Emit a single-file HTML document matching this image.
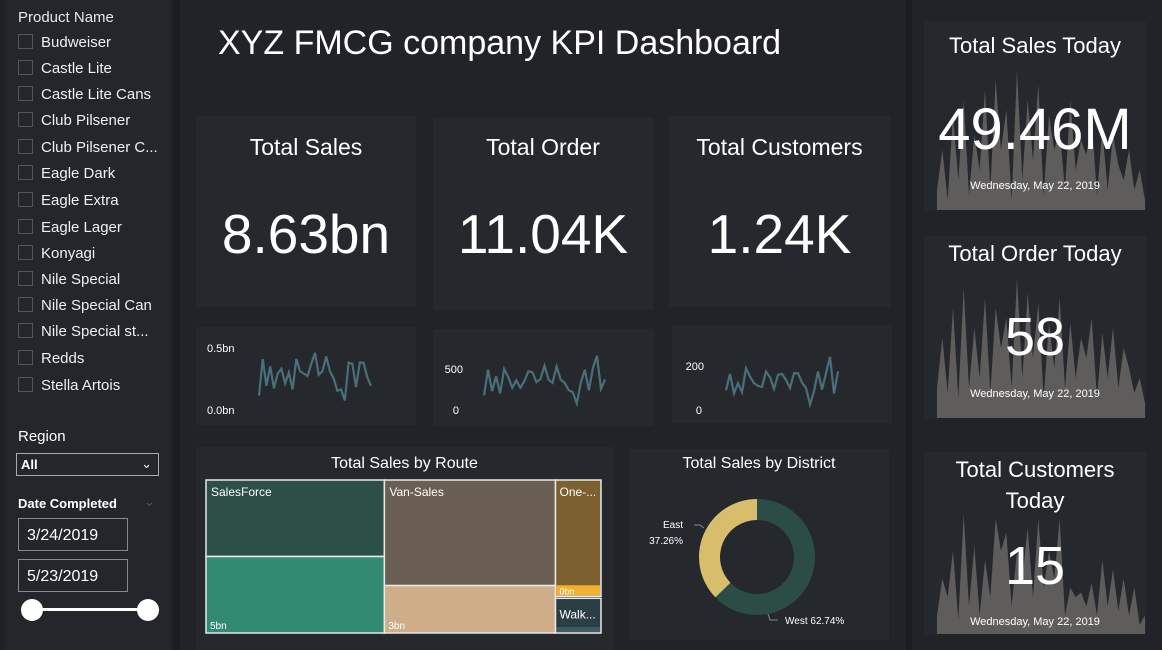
<!DOCTYPE html>
<html><head><meta charset="utf-8"><style>
body{margin:0;width:1162px;height:650px;background:#1f2125;position:relative;overflow:hidden;font-family:"Liberation Sans",sans-serif;color:#fff}
.abs{position:absolute}
.panel{position:absolute;background:#25282d}
.item{position:absolute;left:18px;font-size:15px;color:#f0f0f0}
.cb{display:inline-block;width:13px;height:13px;border:1px solid #555;vertical-align:-2px;margin-right:8px}
.ct{position:absolute;width:100%;text-align:center}
svg text{font-family:"Liberation Sans",sans-serif}
</style></head><body>
<div class="abs" style="left:5px;top:0;width:166px;height:650px;background:#23262a"></div>
<div class="abs" style="left:174px;top:0;width:6px;height:650px;background:#1a1c1f"></div>
<div class="abs" style="left:180px;top:0;width:726px;height:650px;background:#212328"></div>
<div class="abs" style="left:906px;top:0;width:6px;height:650px;background:#1a1c1f"></div>
<div class="abs" style="left:912px;top:0;width:250px;height:650px;background:#212328"></div>

<div class="abs" style="left:18px;top:9px;font-size:15px;color:#e8e8e8">Product Name</div>
<div id="plist"></div>

<div class="abs" style="left:18px;top:428px;font-size:15px">Region</div>
<div class="abs" style="left:16px;top:453px;width:137px;height:21px;border:1px solid #aaa;font-size:13px;font-weight:bold;line-height:21px;padding-left:4px;box-sizing:content-box">All<span style="position:absolute;right:6px;top:-1px;font-weight:normal">&#8964;</span></div>
<div class="abs" style="left:18px;top:496px;font-size:13px;font-weight:bold">Date Completed</div>
<div class="abs" style="left:144px;top:494px;font-size:13px;color:#555">&#8964;</div>
<div class="abs" style="left:18px;top:518px;width:110px;height:33px;border:1px solid #888;font-size:16px;line-height:33px;padding-left:8px;box-sizing:border-box">3/24/2019</div>
<div class="abs" style="left:18px;top:559px;width:110px;height:33px;border:1px solid #888;font-size:16px;line-height:33px;padding-left:8px;box-sizing:border-box">5/23/2019</div>
<div class="abs" style="left:32px;top:608px;width:116px;height:3px;background:#fff"></div>
<div class="abs" style="left:21px;top:599px;width:22px;height:22px;border-radius:50%;background:#fff"></div>
<div class="abs" style="left:137px;top:599px;width:22px;height:22px;border-radius:50%;background:#fff"></div>

<div class="abs" style="left:218px;top:24px;font-size:34px;color:#fff">XYZ FMCG company KPI Dashboard</div>

<div class="panel" style="left:196px;top:116px;width:220px;height:191px"><div class="ct" style="top:18px;font-size:23px">Total Sales</div><div class="ct" style="top:86px;font-size:55px">8.63bn</div></div>
<div class="panel" style="left:433px;top:118px;width:220px;height:192px"><div class="ct" style="top:16px;font-size:23px">Total Order</div><div class="ct" style="top:84px;font-size:55px">11.04K</div></div>
<div class="panel" style="left:669px;top:116px;width:221px;height:191px"><div class="ct" style="top:18px;font-size:23px">Total Customers</div><div class="ct" style="top:86px;font-size:55px">1.24K</div></div>

<div class="panel" style="left:196px;top:327px;width:220px;height:98px"></div>
<div class="panel" style="left:433px;top:329px;width:221px;height:97px"></div>
<div class="panel" style="left:672px;top:325px;width:220px;height:98px"></div>

<div class="panel" style="left:196px;top:447px;width:417px;height:203px"><div class="ct" style="top:8px;font-size:16px">Total Sales by Route</div></div>
<div class="panel" style="left:629px;top:449px;width:260px;height:191px"><div class="ct" style="top:6px;font-size:16px">Total Sales by District</div></div>

<div class="panel" style="left:924px;top:22px;width:222px;height:188px"></div>
<div class="panel" style="left:924px;top:236px;width:222px;height:182px"></div>
<div class="panel" style="left:924px;top:452px;width:222px;height:182px"></div>

<svg id="svg" class="abs" style="left:0;top:0" width="1162" height="650"></svg>

<div class="abs" style="left:924px;top:33px;width:222px;text-align:center;font-size:22px">Total Sales Today</div>
<div class="abs" style="left:924px;top:96px;width:222px;text-align:center;font-size:58px">49.46M</div>
<div class="abs" style="left:924px;top:180px;width:222px;text-align:center;font-size:11px">Wednesday, May 22, 2019</div>
<div class="abs" style="left:924px;top:241px;width:222px;text-align:center;font-size:22px">Total Order Today</div>
<div class="abs" style="left:924px;top:306px;width:222px;text-align:center;font-size:54px">58</div>
<div class="abs" style="left:924px;top:388px;width:222px;text-align:center;font-size:11px">Wednesday, May 22, 2019</div>
<div class="abs" style="left:924px;top:454px;width:222px;text-align:center;font-size:22px;line-height:31px">Total Customers<br>Today</div>
<div class="abs" style="left:924px;top:535px;width:222px;text-align:center;font-size:54px">15</div>
<div class="abs" style="left:924px;top:616px;width:222px;text-align:center;font-size:11px">Wednesday, May 22, 2019</div>

<script>
const products=["Budweiser","Castle Lite","Castle Lite Cans","Club Pilsener","Club Pilsener C...","Eagle Dark","Eagle Extra","Eagle Lager","Konyagi","Nile Special","Nile Special Can","Nile Special st...","Redds","Stella Artois"];
const productTops=[34,60,86,112,139,165,192,219,245,271,297,323,350,377];
const salesTrend=[0.11,0.41,0.19,0.35,0.17,0.29,0.33,0.21,0.30,0.16,0.41,0.31,0.29,0.27,0.37,0.46,0.28,0.31,0.43,0.31,0.25,0.15,0.16,0.07,0.38,0.37,0.18,0.38,0.38,0.26,0.19];
const orderTrend=[177,492,230,411,202,500,403,270,363,270,351,472,460,339,379,540,371,331,532,371,331,242,218,81,331,492,242,512,661,258,371];
const custTrend=[90,164,75,122,81,190,152,122,110,104,175,149,96,160,164,137,100,167,167,125,100,25,85,175,93,167,242,75,175];
const routes=["SalesForce","Van-Sales","One-...","Walk..."];
const routeVals=[4.9,4.7,0.95,0.3];
const routeLabels=["5bn","3bn","0bn",""];
const districts=["East","West"];
const districtShare=[37.26,62.74];
const salesToday=[20,60,10,95,30,110,15,75,40,120,20,130,60,100,10,140,30,110,50,125,15,95,60,80,20,110,40,70,55,90,15,80,20,75,45,30,60,20,40,10];
const orderToday=[30,80,25,110,20,130,30,90,40,120,25,110,70,100,30,140,40,125,60,115,20,95,50,120,30,95,40,80,60,100,20,85,40,90,30,70,50,25,40,15];
const custToday=[20,60,40,90,15,130,30,95,20,80,40,125,90,110,30,90,60,115,40,125,50,90,60,125,20,50,40,45,30,55,20,80,30,70,25,60,20,50,10,20];

const NS="http://www.w3.org/2000/svg";
const svg=document.getElementById('svg');
function mk(tag,attrs,parent){const e=document.createElementNS(NS,tag);for(const k in attrs)e.setAttribute(k,attrs[k]);(parent||svg).appendChild(e);return e;}
function txt(x,y,s,size,anchor,fill){const t=mk('text',{x:x,y:y,'font-size':size,'text-anchor':anchor||'start',fill:fill||'#fff'});t.textContent=s;return t;}

const pl=document.getElementById('plist');
products.forEach((p,i)=>{const d=document.createElement('div');d.className='item';d.style.top=productTops[i]+'px';


d.innerHTML='<span class="cb"></span>'+p;pl.appendChild(d);});

function spark(vals,max,x0,x1,yb,yt,name){
  const sx=i=>x0+i*(x1-x0)/(vals.length-1), sy=v=>yb-(v/max)*(yb-yt);
  const p=mk('polyline',{points:vals.map((v,i)=>sx(i)+','+sy(v)).join(' '),fill:'none',stroke:'#4a6f78','stroke-width':2.2});
  
  
}
spark(salesTrend,0.5,259,371,409,348,'sales-trend-line');
txt(207,352,'0.5bn',11);txt(207,414,'0.0bn',11);
spark(orderTrend,500,484,605,410,369,'order-trend-line');
txt(463,373,'500',11,'end');txt(459,414,'0',11,'end');
spark(custTrend,200,726,838,410,366,'customers-trend-line');
txt(704,370,'200',11,'end');txt(702,414,'0',11,'end');

function area(vals,x0,x1,yb,h,name){
  const max=Math.max(...vals);const sx=i=>x0+i*(x1-x0)/(vals.length-1);
  let d='M'+x0+','+yb;vals.forEach((v,i)=>d+=' L'+sx(i)+','+(yb-v/max*h));d+=' L'+x1+','+yb+' Z';
  const p=mk('path',{d:d,fill:'#5f5d5c'});
  
  
}
area(salesToday,937,1145,210,140,'sales-today-area');
area(orderToday,937,1145,418,140,'order-today-area');
area(custToday,937,1145,634,120,'customers-today-area');

// treemap
const tx0=206,tx1=601,ty0=480,ty1=633;
const tot=routeVals.reduce((a,b)=>a+b,0);
const wA=(tx1-tx0)*routeVals[0]/tot, wB=(tx1-tx0)*routeVals[1]/tot;
const cx1=tx0+wA, cx2=cx1+wB;
const colsTop=['#2c4f48','#6b5e52'], colsBot=['#338a72','#cdae88'];
const splits=[0.5,0.69];
[[tx0,cx1],[cx1,cx2]].forEach((c,i)=>{
  const ys=ty0+(ty1-ty0)*splits[i];
  const r1=mk('rect',{x:c[0],y:ty0,width:c[1]-c[0],height:ys-ty0,fill:colsTop[i],stroke:'#e8e8e8','stroke-width':1.5});
  
  
  const r2=mk('rect',{x:c[0],y:ys,width:c[1]-c[0],height:ty1-ys,fill:colsBot[i],stroke:'#e8e8e8','stroke-width':1.5});
  
  
  txt(c[0]+5,ty0+16,routes[i],12);
  txt(c[0]+4,ty1-4,routeLabels[i],10);
});
const hC=(ty1-ty0)*routeVals[2]/(routeVals[2]+routeVals[3]);
const r3=mk('rect',{x:cx2,y:ty0,width:tx1-cx2,height:hC,fill:'#7c6030',stroke:'#e8e8e8','stroke-width':1.5});


mk('rect',{x:cx2+1,y:ty0+hC-11,width:tx1-cx2-2,height:10,fill:'#f0b030'});
txt(cx2+4,ty0+16,routes[2],12);txt(cx2+4,ty0+hC-2,routeLabels[2],9);
const r4=mk('rect',{x:cx2,y:ty0+hC+2,width:tx1-cx2,height:ty1-ty0-hC-2,fill:'#2b3e44',stroke:'#e8e8e8','stroke-width':1.5});


mk('rect',{x:cx2+1,y:ty1-6,width:tx1-cx2-2,height:5,fill:'#3f5a60'});
txt(cx2+4,ty0+hC+22,routes[3],12);

// donut
const dcx=757,dcy=557,ro=58,ri=37;
const dcol=['#d8bd6c','#2b4d45'];
function pt(r,a){return [dcx+r*Math.sin(a),dcy-r*Math.cos(a)];}
let start=0;
districtShare.slice().reverse().forEach((s,k)=>{
  const i=districtShare.length-1-k;
  const a0=start,a1=start+s/100*2*Math.PI;start=a1;
  const p0=pt(ro,a0),p1=pt(ro,a1),q1=pt(ri,a1),q0=pt(ri,a0);
  const lg=(a1-a0)>Math.PI?1:0;
  const path=mk('path',{d:`M${p0} A${ro},${ro} 0 ${lg} 1 ${p1} L${q1} A${ri},${ri} 0 ${lg} 0 ${q0} Z`,fill:dcol[i]});
  
  
});
mk('polyline',{points:'694,525 700,525 704,528',fill:'none',stroke:'#888'});
txt(683,528,districts[0],10,'end');txt(683,544,districtShare[0].toFixed(2)+'%',10,'end');
mk('polyline',{points:'768,614 770,620 778,620',fill:'none',stroke:'#888'});
txt(785,624,districts[1]+' '+districtShare[1].toFixed(2)+'%',10);
</script>
</body></html>
